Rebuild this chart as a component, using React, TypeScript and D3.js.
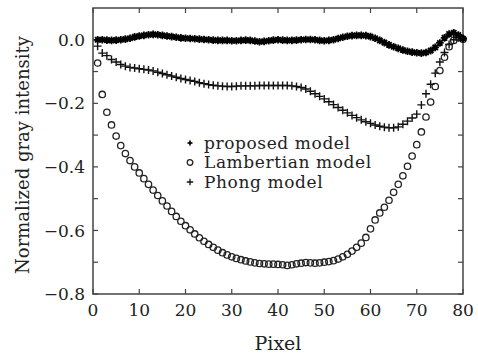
import { useEffect, useRef } from 'react';
import * as d3 from 'd3';

// pixel index 1..80
const pixels = d3.range(1, 81);

const proposed = [
	0.0, 0.0, -0.001, -0.002, -0.001, 0.0, 0.002, 0.005, 0.009, 0.012,
	0.014, 0.016, 0.017, 0.016, 0.014, 0.012, 0.01, 0.008, 0.006, 0.005,
	0.004, 0.003, 0.002, 0.001, 0.0, -0.001, -0.002, -0.002, -0.002, -0.003,
	-0.003, -0.002, -0.001, -0.002, -0.004, -0.006, -0.005, -0.003, -0.001, 0.0,
	-0.001, -0.002, -0.002, -0.001, 0.0, 0.001, 0.001, 0.0, -0.002, -0.003,
	-0.002, 0.0, 0.004, 0.008, 0.011, 0.013, 0.014, 0.014, 0.013, 0.01,
	0.005, -0.002, -0.009, -0.016, -0.022, -0.027, -0.032, -0.036, -0.039, -0.041,
	-0.042, -0.04, -0.034, -0.024, -0.01, 0.006, 0.018, 0.022, 0.015, 0.003,
];

const lambertian = [
	-0.073, -0.172, -0.228, -0.268, -0.303, -0.333, -0.358, -0.38, -0.4, -0.419,
	-0.437, -0.455, -0.473, -0.49, -0.507, -0.523, -0.54, -0.556, -0.571, -0.585,
	-0.598, -0.611, -0.623, -0.634, -0.644, -0.653, -0.662, -0.67, -0.677, -0.683,
	-0.688, -0.692, -0.696, -0.699, -0.702, -0.704, -0.705, -0.706, -0.706, -0.707,
	-0.708, -0.71, -0.708, -0.705, -0.703, -0.701, -0.702, -0.703, -0.702, -0.7,
	-0.698, -0.695, -0.69, -0.683, -0.675, -0.665, -0.653, -0.64, -0.622, -0.595,
	-0.567, -0.545, -0.527, -0.505, -0.48, -0.455, -0.428, -0.398, -0.366, -0.33,
	-0.29, -0.243, -0.196, -0.147, -0.097, -0.055, -0.022, -0.002, 0.006, 0.002,
];

const phong = [
	-0.02, -0.042, -0.05, -0.062, -0.07, -0.078, -0.083, -0.087, -0.089, -0.091,
	-0.093, -0.095, -0.098, -0.102, -0.106, -0.11, -0.114, -0.118, -0.122, -0.125,
	-0.128, -0.131, -0.135, -0.138, -0.141, -0.143, -0.145, -0.146, -0.147, -0.147,
	-0.146, -0.145, -0.145, -0.145, -0.145, -0.144, -0.144, -0.144, -0.144, -0.144,
	-0.144, -0.144, -0.145, -0.147, -0.15, -0.155, -0.162, -0.17, -0.178, -0.186,
	-0.195, -0.204, -0.213, -0.222, -0.23, -0.238, -0.245, -0.252, -0.258, -0.263,
	-0.268, -0.272, -0.275, -0.277, -0.277, -0.274, -0.266, -0.256, -0.246, -0.234,
	-0.205, -0.17, -0.14, -0.105, -0.07, -0.04, -0.015, 0.0, 0.008, 0.005,
];

const xTicks = [0, 10, 20, 30, 40, 50, 60, 70, 80];
const yTicks = [0.0, -0.2, -0.4, -0.6, -0.8];
const yMinorTicks = [0.0, -0.1, -0.2, -0.3, -0.4, -0.5, -0.6, -0.7, -0.8];
const legendLabels = ['proposed model', 'Lambertian model', 'Phong model'];

const FONT = '"DejaVu Serif", serif';
const W = 478;
const H = 356;

export default function App() {
	const svgRef = useRef<SVGSVGElement>(null);

	useEffect(() => {
		if (!svgRef.current) return;
		const svg = d3.select(svgRef.current);
		svg.selectAll('*').remove();

		const margin = { top: 8, right: 15, bottom: 62, left: 93 };
		const plotW = W - margin.left - margin.right;
		const plotH = H - margin.top - margin.bottom;

		const x = d3.scaleLinear().domain([0, 80]).range([0, plotW]);
		const y = d3.scaleLinear().domain([-0.8, 0.1]).range([plotH, 0]);

		const g = svg.append('g').attr('transform', `translate(${margin.left},${margin.top})`);

		const tickLen = 5;
		const frameColor = '#444';

		// inward ticks on all four sides
		xTicks.forEach((t) => {
			g.append('line').attr('x1', x(t)).attr('x2', x(t)).attr('y1', plotH).attr('y2', plotH - tickLen)
				.attr('stroke', frameColor).attr('stroke-width', 1.2);
			g.append('line').attr('x1', x(t)).attr('x2', x(t)).attr('y1', 0).attr('y2', tickLen)
				.attr('stroke', frameColor).attr('stroke-width', 1.2);
		});
		yMinorTicks.forEach((t) => {
			g.append('line').attr('x1', 0).attr('x2', tickLen).attr('y1', y(t)).attr('y2', y(t))
				.attr('stroke', frameColor).attr('stroke-width', 1.2);
			g.append('line').attr('x1', plotW).attr('x2', plotW - tickLen).attr('y1', y(t)).attr('y2', y(t))
				.attr('stroke', frameColor).attr('stroke-width', 1.2);
		});

		// frame
		g.append('rect')
			.attr('width', plotW)
			.attr('height', plotH)
			.attr('fill', 'none')
			.attr('stroke', frameColor)
			.attr('stroke-width', 1.5);

		// tick labels
		g.selectAll('.xlab')
			.data(xTicks)
			.enter()
			.append('text')
			.attr('x', (d) => x(d))
			.attr('y', plotH + 22)
			.attr('text-anchor', 'middle')
			.style('font-family', FONT)
			.style('font-size', '17px')
			.attr('fill', '#222')
			.text((d) => d);

		g.selectAll('.ylab')
			.data(yTicks)
			.enter()
			.append('text')
			.attr('x', -8)
			.attr('y', (d) => y(d))
			.attr('dy', '0.36em')
			.attr('text-anchor', 'end')
			.style('font-family', FONT)
			.style('font-size', '17px')
			.attr('fill', '#222')
			.text((d) => (d === 0 ? '0.0' : '\u2212' + Math.abs(d).toFixed(1)));

		// axis titles
		svg.append('text')
			.attr('x', margin.left + plotW / 2)
			.attr('y', 350)
			.attr('text-anchor', 'middle')
			.style('font-family', FONT)
			.style('font-size', '19px')
			.attr('fill', '#222')
			.text('Pixel');

		svg.append('text')
			.attr('transform', `translate(29,155) rotate(-90)`)
			.attr('text-anchor', 'middle')
			.style('font-family', FONT)
			.style('font-size', '18px')
			.attr('fill', '#222')
			.text('Normalized gray intensity');

		// marker paths
		const plusPath = (s: number) => `M${-s},0H${s}M0,${-s}V${s}`;
		const starPath = (s: number) =>
			`M${-s},0H${s}M0,${-s}V${s}M${-s * 0.7},${-s * 0.7}L${s * 0.7},${s * 0.7}M${-s * 0.7},${s * 0.7}L${s * 0.7},${-s * 0.7}`;

		// Lambertian circles
		g.selectAll('.lam')
			.data(pixels)
			.enter()
			.append('circle')
			.attr('cx', (d) => x(d))
			.attr('cy', (d, i) => y(lambertian[i]))
			.attr('r', 3.2)
			.attr('fill', 'none')
			.attr('stroke', '#222')
			.attr('stroke-width', 1.3);

		// Phong plus signs
		g.selectAll('.phong')
			.data(pixels)
			.enter()
			.append('path')
			.attr('transform', (d, i) => `translate(${x(d)},${y(phong[i])})`)
			.attr('d', plusPath(4))
			.attr('stroke', '#111')
			.attr('stroke-width', 1.4);

		// proposed model
		g.selectAll('.prop')
			.data(pixels)
			.enter()
			.append('path')
			.attr('transform', (d, i) => `translate(${x(d)},${y(proposed[i])})`)
			.attr('d', starPath(3.8))
			.attr('stroke', '#000')
			.attr('stroke-width', 1.8);

		// legend
		const legend = svg.append('g').attr('transform', 'translate(190,143)');
		legendLabels.forEach((label, i) => {
			const ly = i * 19.5;
			if (i === 0) {
				legend.append('path')
					.attr('transform', `translate(0,${ly})`)
					.attr('d', 'M0,-3.4L1.5,0L0,3.4L-1.5,0Z M-3.4,0L0,-1.5L3.4,0L0,1.5Z')
					.attr('fill', '#000');
			} else if (i === 1) {
				legend.append('circle')
					.attr('cx', 0)
					.attr('cy', ly)
					.attr('r', 2.8)
					.attr('fill', 'none')
					.attr('stroke', '#222')
					.attr('stroke-width', 1.3);
			} else {
				legend.append('path')
					.attr('transform', `translate(0,${ly})`)
					.attr('d', plusPath(3.2))
					.attr('stroke', '#111')
					.attr('stroke-width', 1.3);
			}
			legend.append('text')
				.attr('x', 14)
				.attr('y', ly)
				.attr('dy', '0.35em')
				.style('font-family', FONT)
				.style('font-size', '17px')
				.style('letter-spacing', '0.6px')
				.attr('fill', '#222')
				.text(label);
		});
	}, []);

	return (
		<svg
			ref={svgRef}
			width={W}
			height={H}
			style={{ position: 'absolute', left: 0, top: 0, background: '#fff' }}
		></svg>
	);
}
